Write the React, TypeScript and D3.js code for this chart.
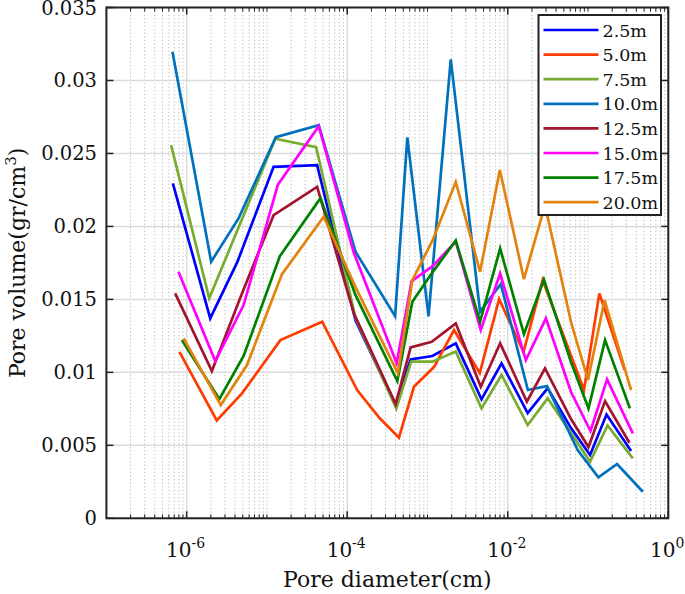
import React from 'react';
import * as d3 from 'd3';

// ---- data (diameter in cm, pore volume in gr/cm^3) ----
const seriesLabels = ['2.5m', '5.0m', '7.5m', '10.0m', '12.5m', '15.0m', '17.5m', '20.0m'];
const seriesColors = ['#0000FF', '#FF3C00', '#77AC30', '#0072BD', '#A2142F', '#FF00FF', '#008000', '#E3830E'];

const diam_2_5 = [6.73e-7, 1.965e-6, 4.27e-6, 1.21e-5, 4.22e-5, 1.27e-4, 4.01e-4, 6.17e-4, 1.15e-3, 2.25e-3, 4.71e-3, 8.37e-3, 0.0177, 0.0314, 0.0614, 0.106, 0.170, 0.344];
const vol_2_5 = [0.02295, 0.0137, 0.01755, 0.02408, 0.0242, 0.01355, 0.00776, 0.01089, 0.01112, 0.01199, 0.00815, 0.01062, 0.00721, 0.00892, 0.00618, 0.00434, 0.00711, 0.00461];

const diam_5_0 = [8.13e-7, 2.37e-6, 4.89e-6, 1.47e-5, 4.88e-5, 1.33e-4, 2.53e-4, 4.41e-4, 6.78e-4, 1.21e-3, 2.14e-3, 4.48e-3, 7.81e-3, 0.0157, 0.0272, 0.0891, 0.1384, 0.2856];
const vol_5_0 = [0.01141, 0.0067, 0.00856, 0.01221, 0.01347, 0.00879, 0.00687, 0.00552, 0.00901, 0.01038, 0.0129, 0.00995, 0.01503, 0.01139, 0.01632, 0.00879, 0.01541, 0.01016];

const diam_7_5 = [6.4e-7, 1.91e-6, 4.39e-6, 1.27e-5, 4.1e-5, 1.27e-4, 4.09e-4, 6.26e-4, 1.16e-3, 2.25e-3, 4.71e-3, 8.37e-3, 0.0177, 0.0314, 0.0614, 0.106, 0.175, 0.3614];
const vol_7_5 = [0.02557, 0.01507, 0.01988, 0.02601, 0.02543, 0.01372, 0.00753, 0.01073, 0.01073, 0.01142, 0.00753, 0.00982, 0.00639, 0.00822, 0.00584, 0.00388, 0.00636, 0.00411];

const diam_10_0 = [6.65e-7, 2.02e-6, 4.43e-6, 1.29e-5, 4.42e-5, 1.27e-4, 3.95e-4, 5.61e-4, 1.03e-3, 1.95e-3, 4.52e-3, 8.2e-3, 0.0178, 0.0308, 0.0743, 0.1345, 0.23, 0.482];
const vol_10_0 = [0.03196, 0.01758, 0.02055, 0.02612, 0.02694, 0.01826, 0.01384, 0.0261, 0.01384, 0.03144, 0.01416, 0.01605, 0.00879, 0.00906, 0.00468, 0.00281, 0.00372, 0.00182];

const diam_12_5 = [7.19e-7, 2.06e-6, 4.79e-6, 1.21e-5, 4.22e-5, 1.21e-4, 4.01e-4, 6.17e-4, 1.13e-3, 2.25e-3, 4.61e-3, 8.04e-3, 0.0173, 0.0291, 0.0614, 0.1014, 0.163, 0.328];
const vol_12_5 = [0.01541, 0.01009, 0.01529, 0.02077, 0.02271, 0.01404, 0.00783, 0.01171, 0.0121, 0.01336, 0.00901, 0.01199, 0.00799, 0.01027, 0.0068, 0.00488, 0.00803, 0.00518];

const diam_15_0 = [7.9e-7, 2.27e-6, 5.12e-6, 1.37e-5, 4.42e-5, 1.2e-4, 4.13e-4, 6.35e-4, 1.16e-3, 2.25e-3, 4.61e-3, 8.04e-3, 0.0168, 0.0299, 0.0614, 0.1074, 0.1727, 0.3614];
const vol_15_0 = [0.01689, 0.01077, 0.01461, 0.02286, 0.02687, 0.01824, 0.01062, 0.01625, 0.01728, 0.01896, 0.0129, 0.01678, 0.01084, 0.0137, 0.00865, 0.00598, 0.00952, 0.00582];

const diam_17_5 = [8.71e-7, 2.55e-6, 5.12e-6, 1.45e-5, 4.64e-5, 1.27e-4, 4.21e-4, 6.48e-4, 1.16e-3, 2.25e-3, 4.52e-3, 8.04e-3, 0.0159, 0.0282, 0.0614, 0.1014, 0.163, 0.3326];
const vol_17_5 = [0.01221, 0.00817, 0.01112, 0.01797, 0.02194, 0.01529, 0.0094, 0.01484, 0.01687, 0.01903, 0.01347, 0.01849, 0.01262, 0.01636, 0.01071, 0.00753, 0.01221, 0.00753];

const diam_20_0 = [9.17e-7, 2.66e-6, 5.64e-6, 1.54e-5, 5.1e-5, 1.27e-4, 4.28e-4, 6.48e-4, 1.16e-3, 2.25e-3, 4.52e-3, 7.97e-3, 0.0159, 0.0291, 0.0614, 0.1, 0.1607, 0.344];
const vol_20_0 = [0.01233, 0.00776, 0.0105, 0.01673, 0.02066, 0.01584, 0.00993, 0.01632, 0.01906, 0.02305, 0.01689, 0.02386, 0.01639, 0.02146, 0.01345, 0.00947, 0.01495, 0.00879];

const diamSets = [diam_2_5, diam_5_0, diam_7_5, diam_10_0, diam_12_5, diam_15_0, diam_17_5, diam_20_0];
const volSets = [vol_2_5, vol_5_0, vol_7_5, vol_10_0, vol_12_5, vol_15_0, vol_17_5, vol_20_0];

const yTicks = [0, 0.005, 0.01, 0.015, 0.02, 0.025, 0.03, 0.035];
const yTickLabels = ['0', '0.005', '0.01', '0.015', '0.02', '0.025', '0.03', '0.035'];
const xMajorExps = [-6, -4, -2, 0];
const xLabel = 'Pore diameter(cm)';
const yLabel = 'Pore volume(gr/cm';

export default function App() {
  const W = 685, H = 594;
  const left = 106.4, right = 668.3, top = 7.5, bottom = 518.3;
  const x = d3.scaleLog().domain([1e-7, 1]).range([left, right]);
  const y = d3.scaleLinear().domain([0, 0.035]).range([bottom, top]);
  const font = "'DejaVu Serif', serif";

  const minor: number[] = [];
  for (let k = -7; k < 0; k++) {
    for (let m = 1; m <= 9; m++) {
      const v = m * Math.pow(10, k);
      if (v <= 1e-7 * 1.0001) continue;
      if (m === 1 && xMajorExps.includes(k)) continue;
      minor.push(v);
    }
  }

  const line = d3.line<[number, number]>().x(d => x(d[0])).y(d => y(d[1]));
  const series = seriesLabels.map((name, i) => ({
    name,
    color: seriesColors[i],
    pts: diamSets[i].map((d, j) => [d, volSets[i][j]] as [number, number]),
  }));

  const legX = 538.5, legY = 15, legW = 122.5, legH = 200, rowH = 24.6;

  return (
    <svg width={W} height={H} style={{ position: 'absolute', left: 0, top: 0, background: '#fff' }} fontFamily={font}>
      <rect x={0} y={0} width={W} height={H} fill="#fff" />
      <defs>
        <clipPath id="plotclip">
          <rect x={left} y={top} width={right - left} height={bottom - top} />
        </clipPath>
      </defs>
      {/* minor vertical grid */}
      {minor.map((v, i) => (
        <line key={'mg' + i} x1={x(v)} x2={x(v)} y1={top} y2={bottom} stroke="#b8b8b8" strokeWidth={1} strokeDasharray="1.2,2.4" />
      ))}
      {/* major vertical grid */}
      {xMajorExps.map(e => (
        <line key={'Mg' + e} x1={x(Math.pow(10, e))} x2={x(Math.pow(10, e))} y1={top} y2={bottom} stroke="#dcdcdc" strokeWidth={1.5} />
      ))}
      {/* horizontal grid */}
      {yTicks.map(t => (
        <line key={'hg' + t} x1={left} x2={right} y1={y(t)} y2={y(t)} stroke="#dcdcdc" strokeWidth={1.5} />
      ))}
      {/* series */}
      <g clipPath="url(#plotclip)">
        {series.map(s => (
          <path key={s.name} d={line(s.pts) || ''} fill="none" stroke={s.color} strokeWidth={2.7} strokeLinejoin="miter" strokeMiterlimit={4} />
        ))}
      </g>
      {/* ticks */}
      {minor.map((v, i) => (
        <g key={'mt' + i}>
          <line x1={x(v)} x2={x(v)} y1={bottom} y2={bottom - 4} stroke="#222" strokeWidth={1} />
          <line x1={x(v)} x2={x(v)} y1={top} y2={top + 4} stroke="#222" strokeWidth={1} />
        </g>
      ))}
      {xMajorExps.map(e => (
        <g key={'Mt' + e}>
          <line x1={x(Math.pow(10, e))} x2={x(Math.pow(10, e))} y1={bottom} y2={bottom - 7} stroke="#222" strokeWidth={1.5} />
          <line x1={x(Math.pow(10, e))} x2={x(Math.pow(10, e))} y1={top} y2={top + 7} stroke="#222" strokeWidth={1.5} />
          <text x={x(Math.pow(10, e)) - 1} y={557} textAnchor="middle" fontSize={20} fill="#111">
            10<tspan dy={-9} fontSize={14}>{String(e)}</tspan>
          </text>
        </g>
      ))}
      {yTicks.map((t, i) => (
        <g key={'yt' + t}>
          <line x1={left} x2={left + 7} y1={y(t)} y2={y(t)} stroke="#222" strokeWidth={1.5} />
          <line x1={right} x2={right - 7} y1={y(t)} y2={y(t)} stroke="#222" strokeWidth={1.5} />
          <text x={97} y={y(t) + 7} textAnchor="end" fontSize={19.5} fill="#111">{yTickLabels[i]}</text>
        </g>
      ))}
      {/* axes box */}
      <rect x={left} y={top} width={right - left} height={bottom - top} fill="none" stroke="#222" strokeWidth={2} />
      {/* legend */}
      <rect x={legX} y={legY} width={legW} height={legH} fill="#fff" stroke="#222" strokeWidth={2} />
      {series.map((s, i) => (
        <g key={'lg' + s.name}>
          <line x1={legX + 5} x2={legX + 60} y1={legY + 15 + i * rowH} y2={legY + 15 + i * rowH} stroke={s.color} strokeWidth={2.7} />
          <text x={legX + 64} y={legY + 15 + i * rowH + 6.5} fontSize={17.5} fill="#111">{s.name}</text>
        </g>
      ))}
      {/* axis labels */}
      <text x={(left + right) / 2} y={587} textAnchor="middle" fontSize={22} fill="#111">{xLabel}</text>
      <text transform={`translate(25, ${(top + bottom) / 2}) rotate(-90)`} textAnchor="middle" fontSize={22} fill="#111">
        {yLabel}<tspan dy={-9} fontSize={15}>3</tspan><tspan dy={9}>)</tspan>
      </text>
    </svg>
  );
}
